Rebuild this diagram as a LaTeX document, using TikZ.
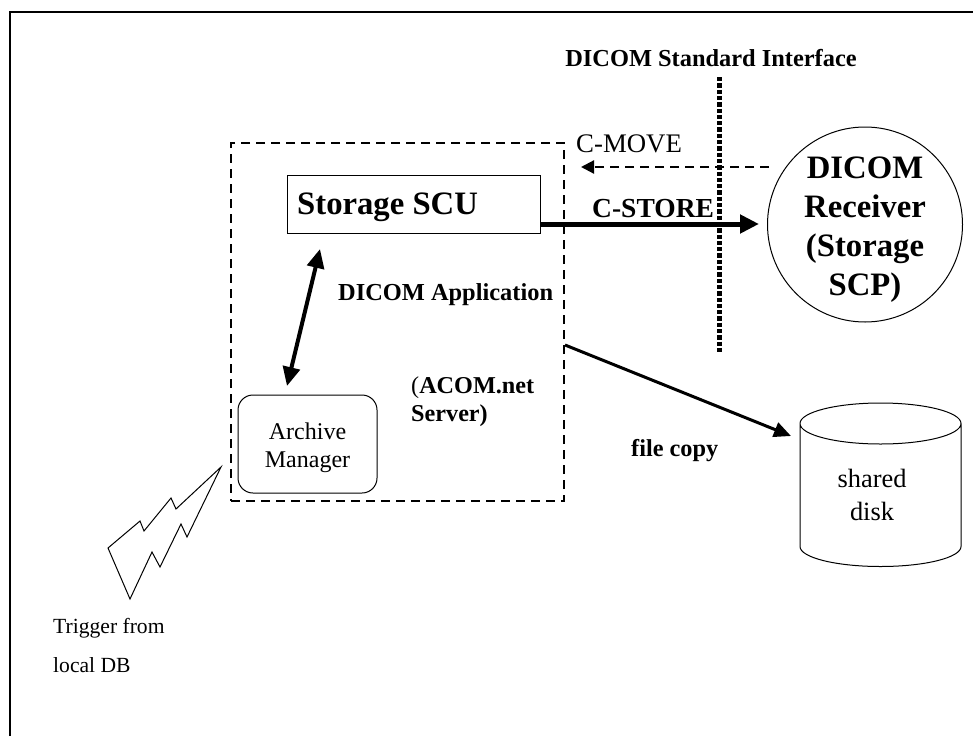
\documentclass[tikz,border=0pt]{standalone}
\usepackage{fontspec}
\setmainfont{Liberation Serif}
\usetikzlibrary{arrows.meta}
\tikzset{
  lbl/.style={inner sep=0pt,align=center,anchor=center},
  dashline/.style={line width=2.2pt,dash pattern=on 9pt off 6pt},
}
\begin{document}
\begin{tikzpicture}[x=1pt,y=-1pt]
\useasboundingbox (0,0) rectangle (973,736);
\coordinate (fa) at (10,736);
\coordinate (fb) at (10,12);
\coordinate (fc) at (973,12);
\draw[line width=2.2pt] (fa) -- (fb) -- (fc);
% dashed application box
\node[draw,dashline,minimum width=333pt,minimum height=358pt,inner sep=0pt] (app) at (397.5,322) {};
% interface line
\coordinate (ifa) at (719,77);
\coordinate (ifb) at (719,354);
\draw[line width=5pt,dash pattern=on 4.3pt off 2pt] (ifa) -- (ifb);
\node[lbl,font=\bfseries\fontsize{24.4}{28}\selectfont] (iflbl) at (711,58) {DICOM Standard Interface};
% storage scu
\node[draw,line width=1pt,minimum width=253pt,minimum height=58pt,inner sep=0pt] (scu) at (413.5,204) {};
\node[lbl,anchor=west,font=\bfseries\fontsize{32.7}{36}\selectfont] (scut) at (297,207) {Storage SCU};
% archive manager
\node[draw,line width=1pt,rounded corners=15pt,minimum width=139pt,minimum height=98pt,inner sep=0pt] (am) at (307.5,444) {};
\node[lbl,font=\fontsize{24}{27.5}\selectfont] (amt) at (307.5,448) {Archive\\Manager};
% receiver
\node[draw,circle,line width=1pt,minimum size=195pt,inner sep=0pt] (rx) at (865,224.5) {};
\node[lbl,font=\bfseries\fontsize{32.7}{39}\selectfont] (rxt) at (865,230) {DICOM\\Receiver\\(Storage\\SCP)};
% disk
\coordinate (dl) at (800,423.5);
\coordinate (dr) at (961,423.5);
\draw[line width=1pt] (dl) arc[x radius=80.5,y radius=20.5,start angle=180,end angle=540]
  (dl) -- (800,546.5) arc[x radius=80.5,y radius=-20,start angle=180,end angle=360] -- (dr);
\node[lbl,font=\fontsize{26.4}{33}\selectfont] (disk) at (872,495) {shared\\disk};
% anchors
\coordinate (movea) at (769,167);
\coordinate (moveb) at (581,167);
\coordinate (storea) at (scu.east|-0,224);
\coordinate (storeb) at (759,224);
\coordinate (copya) at (565,345);
\coordinate (copyb) at (791,436);
\coordinate (dbla) at (320,249);
\coordinate (dblb) at (287,386);
\draw[dashline,-{Triangle[length=13pt,width=13pt]}] (movea) -- (moveb);
\draw[line width=5pt,-{Triangle[length=19pt,width=18pt]}] (storea) -- (storeb);
\draw[line width=3pt,-{Triangle[length=17pt,width=15pt]}] (copya) -- (copyb);
\draw[line width=4pt,{Triangle[length=19pt,width=17pt]}-{Triangle[length=19pt,width=17pt]}] (dbla) -- (dblb);
% labels
\node[lbl,anchor=west,font=\fontsize{26.8}{30}\selectfont] (movet) at (576,143.5) {C-MOVE};
\node[lbl,anchor=west,font=\bfseries\fontsize{27.5}{30}\selectfont] (storet) at (592,209) {C-STORE};
\node[lbl,anchor=west,font=\bfseries\fontsize{24.4}{28}\selectfont] (appt) at (338,295) {DICOM Application};
\node[lbl,anchor=west,align=left,font=\fontsize{24.2}{28}\selectfont] (acom) at (411,402) {(\textbf{ACOM.net}\\\textbf{Server)}};
\node[lbl,anchor=west,font=\bfseries\fontsize{24.3}{28}\selectfont] (copyt) at (631,451) {file copy};
\node[lbl,anchor=west,align=left,font=\fontsize{21.6}{39}\selectfont] (trig) at (53,645.5) {Trigger from\\local DB};
% bolt
\draw[line width=1pt] (221,467) -- (176,509) -- (171,498) -- (144,531) -- (140,521) -- (108,548) -- (130,599) -- (152,552) -- (160,567) -- (181,524) -- (187,537) -- cycle;
\end{tikzpicture}
\end{document}
